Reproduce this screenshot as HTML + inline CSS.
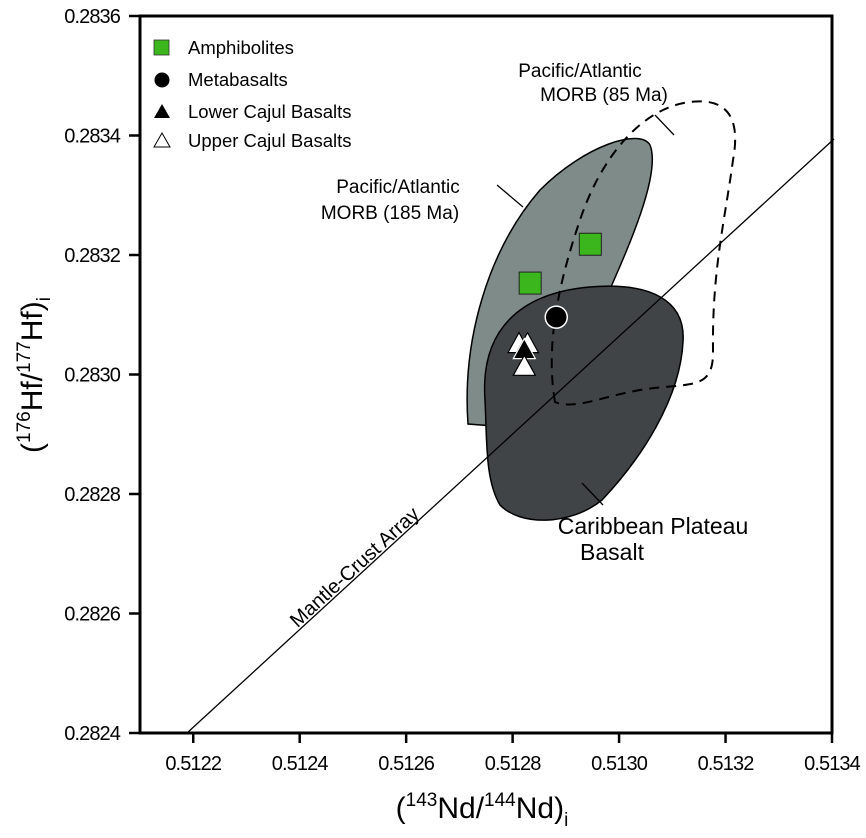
<!DOCTYPE html>
<html><head><meta charset="utf-8"><style>
body{margin:0;background:#fff;}
svg{display:block;font-family:"Liberation Sans",Arial,sans-serif;}
</style></head><body>
<svg id="chart" width="866" height="838" viewBox="0 0 866 838">
<g id="regions">
 <path d="M468,424 C462,340 488,250 540,190 C585,145 640,128 650,145 C662,175 625,255 603,305 L520,428 Z" fill="#7f8b88" stroke="#000" stroke-width="1.5"/>
 <path d="M485,400 C480,330 520,293 590,287 C650,282 686,300 683,342 C680,400 640,460 602,500 C570,526 520,526 500,505 C485,480 487,440 485,400 Z" fill="#414446" stroke="#000" stroke-width="1.5"/>
 <path d="M555,402 C546,350 556,290 580,220 C600,160 640,108 690,102 C722,98 742,112 733,160 C725,220 712,270 713,350 C714,392 690,382 640,390 C600,397 575,410 555,402 Z" fill="none" stroke="#000" stroke-width="2" stroke-dasharray="10,7"/>
</g>
<line x1="187" y1="733" x2="834" y2="139" stroke="#000" stroke-width="1.3"/>
<g id="axes"></g>
<g id="marks"></g>
<g font-size="19" fill="#000">
 <text x="580" y="77" text-anchor="middle">Pacific/Atlantic</text>
 <text x="604" y="101" text-anchor="middle">MORB (85 Ma)</text>
 <line x1="655" y1="115" x2="674" y2="135" stroke="#000" stroke-width="1.3"/>
 <text x="398" y="193" text-anchor="middle">Pacific/Atlantic</text>
 <text x="390" y="219" text-anchor="middle">MORB (185 Ma)</text>
 <line x1="497" y1="185" x2="523" y2="207" stroke="#000" stroke-width="1.3"/>
 <text x="653" y="534" text-anchor="middle" font-size="23">Caribbean Plateau</text>
 <text x="612" y="560" text-anchor="middle" font-size="23">Basalt</text>
 <line x1="582" y1="483" x2="603" y2="505" stroke="#000" stroke-width="1.3"/>
 <text transform="translate(359,572) rotate(-42.5)" text-anchor="middle" font-size="20">Mantle-Crust Array</text>
</g>
<g font-size="18.5">
 <rect x="154" y="40" width="15" height="15" fill="#3cb61d" stroke="#333" stroke-width="0.8"/>
 <text x="188" y="54">Amphibolites</text>
 <circle cx="162" cy="80" r="7.5" fill="#000"/>
 <text x="188" y="86">Metabasalts</text>
 <polygon points="162,104 170,118 154,118" fill="#000"/>
 <text x="188" y="118">Lower Cajul Basalts</text>
 <polygon points="162,133 170,147 154,147" fill="#fff" stroke="#000" stroke-width="1"/>
 <text x="188" y="147">Upper Cajul Basalts</text>
</g>
<text x="482" y="818" text-anchor="middle" font-size="30">(<tspan font-size="19" dy="-12">143</tspan><tspan dy="12">Nd/</tspan><tspan font-size="19" dy="-12">144</tspan><tspan dy="12">Nd)</tspan><tspan font-size="19" dy="8">i</tspan></text>
<text transform="translate(42,375) rotate(-90)" text-anchor="middle" font-size="30">(<tspan font-size="19" dy="-12">176</tspan><tspan dy="12">Hf/</tspan><tspan font-size="19" dy="-12">177</tspan><tspan dy="12">Hf)</tspan><tspan font-size="19" dy="8">i</tspan></text>
</svg>
<script>
const xTicks = [0.5122, 0.5124, 0.5126, 0.5128, 0.5130, 0.5132, 0.5134];
const xTickLabels = ["0.5122","0.5124","0.5126","0.5128","0.5130","0.5132","0.5134"];
const yTicks = [0.2824, 0.2826, 0.2828, 0.2830, 0.2832, 0.2834, 0.2836];
const yTickLabels = ["0.2824","0.2826","0.2828","0.2830","0.2832","0.2834","0.2836"];
const amphNd = [0.512833, 0.512946];
const amphHf = [0.283153, 0.283218];
const metaNd = [0.512882];
const metaHf = [0.283096];
const lowerNd = [0.512822];
const lowerHf = [0.283040];
const upperNd = [0.512812, 0.512828, 0.512822];
const upperHf = [0.283050, 0.283050, 0.283012];

const X0=140, X1=832, Y0=733, Y1=16;
function xs(v){return X0+(v-0.5121)/(0.5134-0.5121)*(X1-X0);}
function ys(v){return Y0-(v-0.2824)/(0.2836-0.2824)*(Y0-Y1);}
const NS="http://www.w3.org/2000/svg";
function mk(tag,attrs,parent){const e=document.createElementNS(NS,tag);for(const k in attrs)e.setAttribute(k,attrs[k]);parent.appendChild(e);return e;}
const axes=document.getElementById('axes');
const frame=mk('rect',{x:X0,y:Y1,width:X1-X0,height:Y0-Y1,fill:'none',stroke:'#000','stroke-width':3},axes);


xTicks.forEach((t,i)=>{
 const x=xs(t);
 const l=mk('line',{x1:x,y1:Y0,x2:x,y2:Y0+10,stroke:'#000','stroke-width':2.5},axes);
 
 
 const tx=mk('text',{x:x,y:Y0+37,'text-anchor':'middle','font-size':20,'letter-spacing':'-0.9'},axes);
 tx.textContent=xTickLabels[i];
 
 
});
yTicks.forEach((t,i)=>{
 const y=ys(t);
 const l=mk('line',{x1:X0-11,y1:y,x2:X0,y2:y,stroke:'#000','stroke-width':2.5},axes);
 
 
 const tx=mk('text',{x:X0-20,y:y+7,'text-anchor':'end','font-size':20,'letter-spacing':'-0.9'},axes);
 tx.textContent=yTickLabels[i];
 
 
});
const marks=document.getElementById('marks');
amphNd.forEach((v,i)=>{
 const x=xs(v),y=ys(amphHf[i]);
 const r=mk('rect',{x:x-11,y:y-11,width:22,height:22,fill:'#3cb61d',stroke:'#222','stroke-width':1},marks);
 
 
});
metaNd.forEach((v,i)=>{
 const x=xs(v),y=ys(metaHf[i]);
 const c=mk('circle',{cx:x,cy:y,r:11,fill:'#000',stroke:'#fff','stroke-width':1.5},marks);
 
 
});
function tri(x,y,fill,name){
 const p=mk('polygon',{points:`${x},${y-12} ${x+11},${y+8} ${x-11},${y+8}`,fill:fill,stroke:fill==='#000'?'#fff':'#000','stroke-width':1.2},marks);
 
 
}
upperNd.forEach((v,i)=>{ if(i<2) tri(xs(v),ys(upperHf[i]),'#fff','upper-cajul-point'); });
lowerNd.forEach((v,i)=>tri(xs(v),ys(lowerHf[i]),'#000','lower-cajul-point'));
upperNd.forEach((v,i)=>{ if(i>=2) tri(xs(v),ys(upperHf[i]),'#fff','upper-cajul-point'); });
</script>
</body></html>
